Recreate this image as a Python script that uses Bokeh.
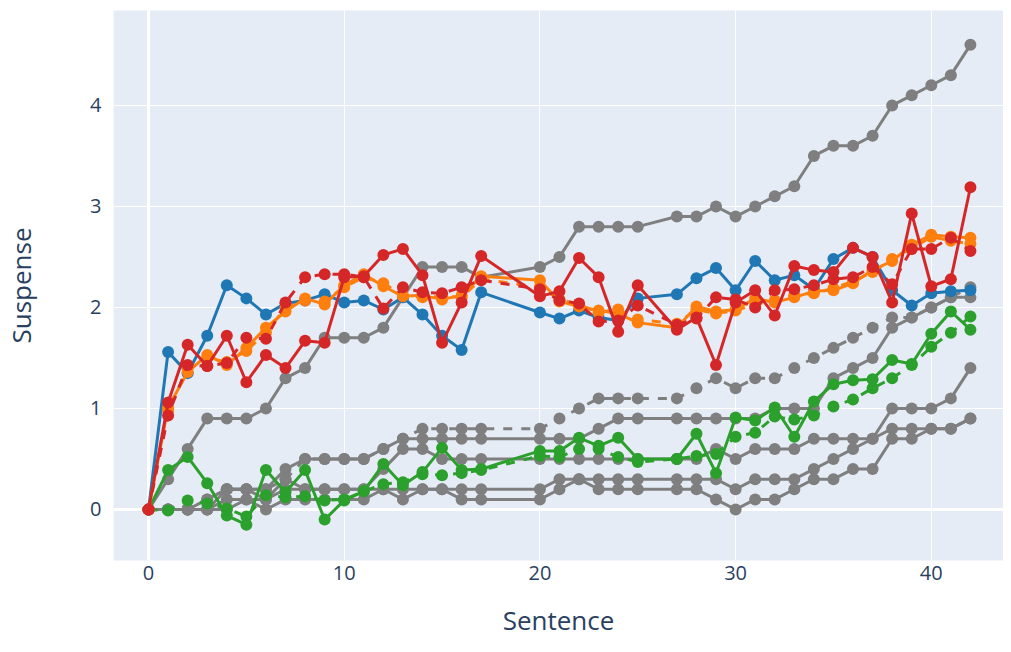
from bokeh.plotting import figure
from bokeh.models import Range1d, FixedTicker, Span
from bokeh.embed import file_html
from bokeh.resources import INLINE

sentence = list(range(0, 18)) + list(range(20, 26)) + list(range(27, 43))

gray_top = [0, 0.3, 0.6, 0.9, 0.9, 0.9, 1.0, 1.3, 1.4, 1.7, 1.7, 1.7, 1.8, 2.1, 2.4, 2.4, 2.4, 2.3,
            2.4, 2.5, 2.8, 2.8, 2.8, 2.8,
            2.9, 2.9, 3.0, 2.9, 3.0, 3.1, 3.2, 3.5, 3.6, 3.6, 3.7, 4.0, 4.1, 4.2, 4.3, 4.6]
gray_b = [0, 0, 0, 0.1, 0.2, 0.2, 0.2, 0.4, 0.5, 0.5, 0.5, 0.5, 0.6, 0.7, 0.7, 0.7, 0.7, 0.7,
          0.7, 0.7, 0.7, 0.8, 0.9, 0.9,
          0.9, 0.9, 0.9, 0.9, 0.9, 1.0, 1.0, 1.0, 1.3, 1.4, 1.5, 1.8, 1.9, 2.0, 2.1, 2.1]
gray_dash = [0, 0, 0, 0.1, 0.2, 0.2, 0.2, 0.3, 0.5, 0.5, 0.5, 0.5, 0.6, 0.7, 0.8, 0.8, 0.8, 0.8,
             0.8, 0.9, 1.0, 1.1, 1.1, 1.1,
             1.1, 1.2, 1.3, 1.2, 1.3, 1.3, 1.4, 1.5, 1.6, 1.7, 1.8, 1.9, 1.9, 2.0, 2.1, 2.2]
gray_c = [0, 0, 0, 0, 0.1, 0.1, 0.1, 0.2, 0.2, 0.2, 0.2, 0.2, 0.4, 0.6, 0.6, 0.5, 0.5, 0.5,
          0.5, 0.5, 0.5, 0.5, 0.5, 0.5,
          0.5, 0.5, 0.6, 0.5, 0.6, 0.6, 0.6, 0.7, 0.7, 0.7, 0.7, 1.0, 1.0, 1.0, 1.1, 1.4]
gray_d = [0, 0, 0, 0, 0.2, 0.2, 0.1, 0.3, 0.2, 0.2, 0.2, 0.2, 0.2, 0.2, 0.2, 0.2, 0.2, 0.2,
          0.2, 0.3, 0.3, 0.3, 0.3, 0.3,
          0.3, 0.3, 0.3, 0.2, 0.3, 0.3, 0.3, 0.4, 0.5, 0.6, 0.7, 0.8, 0.8, 0.8, 0.8, 0.9]
gray_e = [0, 0, 0, 0, 0, 0.1, 0, 0.1, 0.1, 0.1, 0.1, 0.1, 0.2, 0.1, 0.2, 0.2, 0.1, 0.1,
          0.1, 0.2, 0.3, 0.2, 0.2, 0.2,
          0.2, 0.2, 0.1, 0.0, 0.1, 0.1, 0.2, 0.3, 0.3, 0.4, 0.4, 0.7, 0.7, 0.8, 0.8, 0.9]

green_solid = [0, 0.39, 0.52, 0.26, -0.06, -0.15, 0.39, 0.17, 0.39, -0.10, 0.09, 0.18, 0.45, 0.24, 0.37, 0.61, 0.39, 0.40,
               0.58, 0.58, 0.71, 0.63, 0.71, 0.50,
               0.50, 0.75, 0.36, 0.91, 0.88, 1.01, 0.72, 1.07, 1.24, 1.28, 1.29, 1.48, 1.44, 1.74, 1.96, 1.78]
green_dash = [0, -0.01, 0.09, 0.06, 0.01, -0.07, 0.14, 0.12, 0.13, 0.09, 0.10, 0.18, 0.25, 0.27, 0.35, 0.34, 0.36, 0.39,
              0.53, 0.52, 0.60, 0.60, 0.52, 0.47,
              0.50, 0.53, 0.55, 0.72, 0.76, 0.92, 0.89, 0.93, 1.02, 1.09, 1.20, 1.30, 1.43, 1.61, 1.75, 1.91]

blue = [0, 1.56, 1.35, 1.72, 2.22, 2.09, 1.93, 2.04, 2.07, 2.13, 2.05, 2.07, 1.98, 2.10, 1.93, 1.72, 1.58, 2.15,
        1.95, 1.89, 1.97, 1.90, 1.87, 2.09,
        2.13, 2.29, 2.39, 2.17, 2.46, 2.27, 2.32, 2.18, 2.48, 2.59, 2.50, 2.17, 2.02, 2.14, 2.16, 2.17]

orange_solid = [0, 1.01, 1.36, 1.53, 1.43, 1.60, 1.80, 1.96, 2.09, 2.03, 2.22, 2.33, 2.21, 2.11, 2.12, 2.08, 2.12, 2.31,
                2.27, 2.06, 2.01, 1.97, 1.94, 1.85,
                1.80, 2.01, 1.96, 1.98, 2.09, 2.05, 2.10, 2.16, 2.17, 2.24, 2.37, 2.46, 2.62, 2.72, 2.70, 2.69]
orange_dash = [0, 0.98, 1.40, 1.50, 1.46, 1.57, 1.75, 2.00, 2.07, 2.06, 2.20, 2.30, 2.24, 2.12, 2.10, 2.11, 2.10, 2.28,
               2.20, 2.08, 2.03, 1.95, 1.98, 1.88,
               1.84, 1.98, 1.94, 1.97, 2.03, 2.07, 2.12, 2.14, 2.19, 2.26, 2.35, 2.48, 2.58, 2.70, 2.66, 2.63]

red_solid = [0, 1.06, 1.63, 1.42, 1.72, 1.26, 1.53, 1.40, 1.67, 1.65, 2.30, 2.31, 2.52, 2.58, 2.32, 1.65, 2.05, 2.51,
             2.11, 2.16, 2.49, 2.30, 1.76, 2.22,
             1.78, 1.90, 1.43, 2.05, 2.17, 1.92, 2.41, 2.37, 2.35, 2.59, 2.50, 2.05, 2.93, 2.21, 2.28, 3.19]
red_dash = [0, 0.93, 1.43, 1.42, 1.45, 1.70, 1.69, 2.05, 2.30, 2.33, 2.33, 2.30, 1.99, 2.20, 2.15, 2.14, 2.20, 2.27,
            2.18, 2.07, 2.04, 1.86, 1.87, 2.02,
            1.83, 1.89, 2.10, 2.08, 2.00, 2.17, 2.18, 2.22, 2.28, 2.30, 2.40, 2.23, 2.58, 2.58, 2.69, 2.56]

x_ticks = [0, 10, 20, 30, 40]
y_ticks = [0, 1, 2, 3, 4]

GRAY = "#7f7f7f"
traces = [
    (gray_top, GRAY, "solid"),
    (gray_b, GRAY, "solid"),
    (gray_dash, GRAY, "9 9"),
    (gray_c, GRAY, "solid"),
    (gray_d, GRAY, "solid"),
    (gray_e, GRAY, "solid"),
    (green_dash, "#2ca02c", "9 9"),
    (green_solid, "#2ca02c", "solid"),
    (blue, "#1f77b4", "solid"),
    (orange_dash, "#ff7f0e", "9 9"),
    (orange_solid, "#ff7f0e", "solid"),
    (red_dash, "#d62728", "9 9"),
    (red_solid, "#d62728", "solid"),
]

p = figure(width=1003, height=650, output_backend="svg", toolbar_location=None,
           x_range=Range1d(-1.79, 43.69), y_range=Range1d(-0.505, 4.94),
           min_border_left=109, min_border_right=0, min_border_top=10, min_border_bottom=90)
p.background_fill_color = "#E5ECF6"
p.border_fill_color = "white"
p.outline_line_color = None

for ys, col, dash in traces:
    p.line(sentence, ys, line_color=col, line_width=3, line_dash=dash)
    p.scatter(sentence, ys, size=12, fill_color=col, line_color=col, line_width=0)

p.xaxis.ticker = FixedTicker(ticks=x_ticks)
p.yaxis.ticker = FixedTicker(ticks=y_ticks)
for ax in (p.xaxis[0], p.yaxis[0]):
    ax.axis_line_color = None
    ax.major_tick_line_color = None
    ax.minor_tick_line_color = None
    ax.major_tick_out = 0
    ax.major_tick_in = 0
    ax.minor_tick_out = 0
    ax.minor_tick_in = 0
    ax.major_label_text_font = "Open Sans"
    ax.major_label_text_font_size = "20px"
    ax.major_label_text_color = "#2a3f5f"
    ax.axis_label_text_font = "Open Sans"
    ax.axis_label_text_font_size = "26px"
    ax.axis_label_text_color = "#2a3f5f"
    ax.axis_label_text_font_style = "normal"
p.xaxis.axis_label = "Sentence"
p.yaxis.axis_label = "Suspense"
p.xaxis.major_label_standoff = 5
p.yaxis.major_label_standoff = 12
p.xaxis.axis_label_standoff = 19
p.yaxis.axis_label_standoff = 48
p.xgrid.grid_line_color = "white"
p.ygrid.grid_line_color = "white"
p.xgrid.grid_line_width = 1
p.ygrid.grid_line_width = 1

p.add_layout(Span(location=0, dimension="height", line_color="white", line_width=3, level="underlay"))
p.add_layout(Span(location=0, dimension="width", line_color="white", line_width=3, level="underlay"))

open("out.html", "w").write(file_html(p, INLINE))
